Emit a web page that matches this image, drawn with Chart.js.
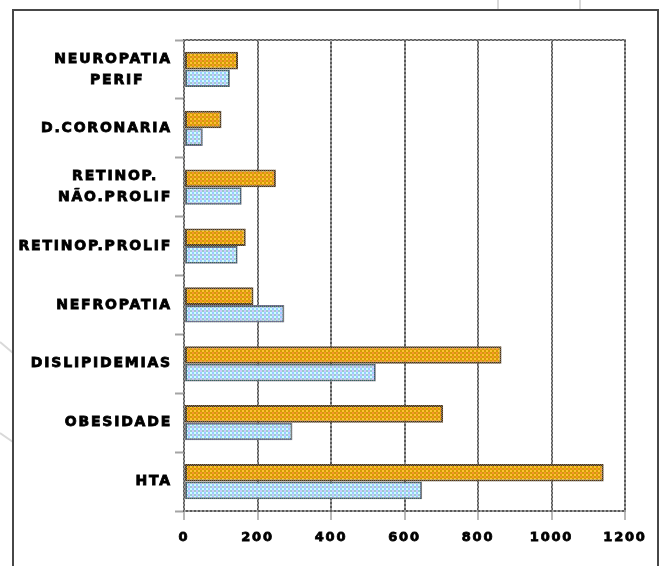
<!DOCTYPE html>
<html>
<head>
<meta charset="utf-8">
<script src="https://cdn.jsdelivr.net/npm/chart.js@4/dist/chart.umd.min.js"></script>
<style>
  html, body { margin: 0; padding: 0; background: #fff; }
  #c { display: block; }
</style>
</head>
<body>
<canvas id="c" width="661" height="566"></canvas>
<script>
// Complicações registadas por categoria (duas séries por categoria)
const categories = [
  ['NEUROPATIA', 'PERIF'],
  'D.CORONARIA',
  ['RETINOP.', 'NÃO.PROLIF'],
  'RETINOP.PROLIF',
  'NEFROPATIA',
  'DISLIPIDEMIAS',
  'OBESIDADE',
  'HTA'
];
const serieLaranja = [147, 102, 250, 168, 189, 864, 705, 1142];
const serieAzul    = [125, 51, 157, 146, 273, 522, 295, 648];
const xTicks = [0, 200, 400, 600, 800, 1000, 1200];
const xTickLabels = ['0', '200', '400', '600', '800', '1000', '1200'];

const FAMILY = '"DejaVu Sans", Arial, sans-serif';
const SPACING = '1.8px';
const Y_FONT = 'bold 14px ' + FAMILY;

const canvas = document.getElementById('c');
const mainCtx = canvas.getContext('2d');

// small checkered fills
function checker(colors, cell) {
  const t = document.createElement('canvas');
  t.width = t.height = cell * 2;
  const g = t.getContext('2d');
  g.fillStyle = colors[0]; g.fillRect(0, 0, cell, cell);
  g.fillStyle = colors[1]; g.fillRect(cell, 0, cell, cell);
  g.fillStyle = colors[2]; g.fillRect(0, cell, cell, cell);
  g.fillStyle = colors[3]; g.fillRect(cell, cell, cell, cell);
  return mainCtx.createPattern(t, 'repeat');
}

const gridDots   = checker(['#5a5a5a', '#9a9a9a', '#9a9a9a', '#5a5a5a'], 2);
const laranja    = checker(['#F7962F', '#D29C05', '#D29C05', '#FFC232'], 2);
const laranjaBrd = checker(['#5a3300', '#6e6e6e', '#6e6e6e', '#5a3300'], 1);
const azul       = checker(['#99CCFF', '#CCFFFF', '#CCCCFF', '#99CCCC'], 2);
const azulBrd    = checker(['#336666', '#7e7e7e', '#666699', '#7e7e7e'], 1);

// two-line labels: lines centred on each other, block right-aligned
const meter = document.createElement('canvas').getContext('2d');
function centreLines(label) {
  if (!Array.isArray(label)) return label;
  meter.font = Y_FONT;
  meter.letterSpacing = SPACING;
  const widths = label.map(t => meter.measureText(t).width);
  const widest = Math.max(...widths);
  return label.map((t, i) => {
    const goal = widths[i] + (widest - widths[i]) / 2;
    let s = t;
    for (let k = 0; k < 80; k++) {
      if (meter.measureText(s + '\u2009').width > goal + 0.5) break;
      s += '\u2009';
    }
    return s;
  });
}

const pageDecor = {
  id: 'pageDecor',
  beforeUpdate(chart) { chart.ctx.letterSpacing = SPACING; },
  beforeDraw(chart) {
    const ctx = chart.ctx;
    ctx.letterSpacing = SPACING;
    ctx.save();
    ctx.fillStyle = '#fff';
    ctx.fillRect(0, 0, chart.width, chart.height);
    // faint background strokes outside the frame
    ctx.strokeStyle = '#d9d9d9';
    ctx.lineWidth = 2;
    ctx.beginPath();
    ctx.moveTo(498, 0); ctx.lineTo(498, 10);
    ctx.moveTo(580, 0); ctx.lineTo(580, 10);
    ctx.moveTo(0, 342); ctx.lineTo(13, 353);
    ctx.moveTo(0, 433); ctx.lineTo(13, 442);
    ctx.stroke();
    // frame
    ctx.strokeStyle = '#474747';
    ctx.lineWidth = 2;
    ctx.strokeRect(13, 10, 645, 620);
    ctx.restore();
  },
  beforeDatasetsDraw(chart) {
    // dotted top edge of the plot box
    const a = chart.chartArea;
    const ctx = chart.ctx;
    ctx.save();
    ctx.strokeStyle = gridDots;
    ctx.lineWidth = 2;
    ctx.beginPath();
    ctx.moveTo(a.left - 1, a.top);
    ctx.lineTo(a.right + 1, a.top);
    ctx.stroke();
    ctx.restore();
  }
};

new Chart(canvas, {
  type: 'bar',
  data: {
    labels: categories,
    datasets: [
      {
        label: 'Série 1',
        data: serieLaranja,
        backgroundColor: laranja,
        borderColor: laranjaBrd,
        borderWidth: 2,
        borderSkipped: false
      },
      {
        label: 'Série 2',
        data: serieAzul,
        backgroundColor: azul,
        borderColor: azulBrd,
        borderWidth: 2,
        borderSkipped: false
      }
    ]
  },
  options: {
    indexAxis: 'y',
    responsive: false,
    animation: false,
    devicePixelRatio: 1,
    layout: { padding: { left: 0, top: 40, right: 36, bottom: 0 } },
    datasets: { bar: { categoryPercentage: 0.6, barPercentage: 1 } },
    plugins: { legend: { display: false }, tooltip: { enabled: false } },
    scales: {
      x: {
        min: 0,
        max: 1200,
        afterBuildTicks: s => { s.ticks = xTicks.map(v => ({ value: v })); },
        afterFit: s => { s.height = 55; },
        grid: {
          color: gridDots,
          lineWidth: 2,
          drawTicks: true,
          tickLength: 9,
          tickColor: '#b8b8b8',
          tickWidth: 2
        },
        border: { display: true, color: gridDots, width: 2 },
        ticks: {
          color: '#000',
          padding: 10,
          maxRotation: 0,
          autoSkip: false,
          textStrokeColor: '#000',
          textStrokeWidth: 0.8,
          font: { family: FAMILY, size: 13, weight: 'bold' },
          callback: (v, i) => xTickLabels[i]
        }
      },
      y: {
        afterFit: s => { s.width = 184; },
        grid: {
          offset: true,
          drawOnChartArea: false,
          drawTicks: true,
          tickLength: 9,
          tickColor: '#a4a4a4',
          tickWidth: 2
        },
        border: { display: true, color: gridDots, width: 2 },
        ticks: {
          color: '#000',
          padding: 3,
          autoSkip: false,
          textStrokeColor: '#000',
          textStrokeWidth: 0.8,
          font: { family: FAMILY, size: 14, weight: 'bold', lineHeight: 1.5 },
          callback: (v, i) => centreLines(categories[i])
        }
      }
    }
  },
  plugins: [pageDecor]
});
</script>
</body>
</html>
